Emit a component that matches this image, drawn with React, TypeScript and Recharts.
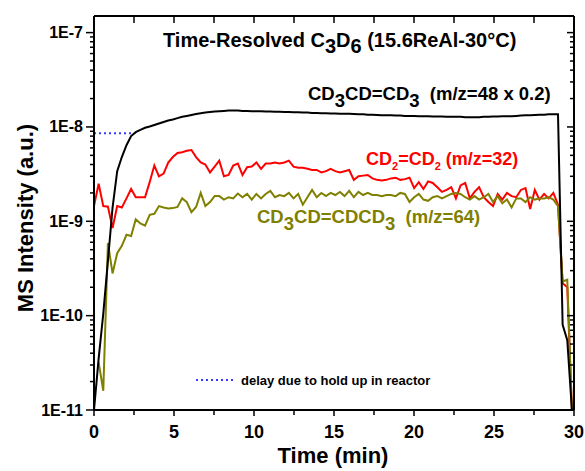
import React from 'react';
import { LineChart, Line, XAxis, YAxis } from 'recharts';

// sampling grid (min)
const times: number[] = Array.from({ length: 104 }, (_, i) => Math.round(i * 29) / 100);

const blackValues: number[] = [
  1e-11, 3.5e-11, 1.05e-10, 3.8e-10, 1.4e-9, 3.4e-9, 4.8e-9, 6.4e-9, 8.0e-9, 8.8e-9,
  9.3e-9, 9.8e-9, 1.01e-8, 1.05e-8, 1.09e-8, 1.13e-8, 1.17e-8, 1.2e-8, 1.24e-8, 1.28e-8,
  1.31e-8, 1.34e-8, 1.37e-8, 1.4e-8, 1.42e-8, 1.44e-8, 1.46e-8, 1.47e-8, 1.48e-8, 1.49e-8,
  1.49e-8, 1.49e-8, 1.48e-8, 1.48e-8, 1.47e-8, 1.47e-8, 1.47e-8, 1.46e-8, 1.46e-8, 1.45e-8,
  1.45e-8, 1.44e-8, 1.44e-8, 1.43e-8, 1.43e-8, 1.42e-8, 1.42e-8, 1.41e-8, 1.41e-8, 1.4e-8,
  1.4e-8, 1.39e-8, 1.39e-8, 1.38e-8, 1.38e-8, 1.38e-8, 1.37e-8, 1.36e-8, 1.36e-8, 1.35e-8,
  1.35e-8, 1.34e-8, 1.33e-8, 1.33e-8, 1.33e-8, 1.32e-8, 1.32e-8, 1.31e-8, 1.31e-8, 1.31e-8,
  1.3e-8, 1.3e-8, 1.3e-8, 1.29e-8, 1.29e-8, 1.29e-8, 1.28e-8, 1.28e-8, 1.28e-8, 1.28e-8,
  1.27e-8, 1.27e-8, 1.27e-8, 1.27e-8, 1.28e-8, 1.28e-8, 1.29e-8, 1.29e-8, 1.3e-8, 1.3e-8,
  1.3e-8, 1.31e-8, 1.32e-8, 1.33e-8, 1.33e-8, 1.34e-8, 1.35e-8, 1.35e-8, 1.36e-8, 1.36e-8,
  1.36e-8, 8e-11, 5.5e-11, 1e-11,
];

const redValues: number[] = [
  1.45e-9, 2.5e-9, 1.45e-9, 1.43e-9, 8.5e-10, 1.45e-9, 1.4e-9, 1.75e-9, 2.2e-9, 1.8e-9,
  1.8e-9, 1.8e-9, 2.6e-9, 3.9e-9, 3.0e-9, 3.2e-9, 4.2e-9, 4.8e-9, 5.3e-9, 5.4e-9,
  5.6e-9, 5.7e-9, 4.8e-9, 4.2e-9, 4.0e-9, 3.3e-9, 3.8e-9, 4.4e-9, 3.0e-9, 3.1e-9,
  3.9e-9, 4.1e-9, 3.1e-9, 3.75e-9, 3.8e-9, 4.2e-9, 3.6e-9, 4.1e-9, 4.1e-9, 4.2e-9,
  4.1e-9, 4.2e-9, 4.4e-9, 3.8e-9, 3.7e-9, 3.7e-9, 3.6e-9, 3.5e-9, 3.5e-9, 3.3e-9,
  3.4e-9, 3.6e-9, 3.4e-9, 3.3e-9, 3.4e-9, 3.5e-9, 2.75e-9, 3.0e-9, 3.05e-9, 3.1e-9,
  2.85e-9, 2.75e-9, 2.7e-9, 2.75e-9, 2.85e-9, 2.9e-9, 2.75e-9, 2.8e-9, 2.9e-9, 2.25e-9,
  2.6e-9, 2.2e-9, 2.65e-9, 2.55e-9, 2.3e-9, 2.05e-9, 2.15e-9, 2.3e-9, 1.75e-9, 2.4e-9,
  2.55e-9, 1.75e-9, 2.05e-9, 2.3e-9, 1.8e-9, 1.6e-9, 1.45e-9, 1.95e-9, 1.7e-9, 2.0e-9,
  1.85e-9, 1.8e-9, 2.15e-9, 2.25e-9, 1.35e-9, 2.15e-9, 1.7e-9, 1.95e-9, 1.75e-9, 2.0e-9,
  1.5e-9, 2.2e-10, 2.0e-10, 1e-11,
];

const oliveValues: (number | null)[] = [
  null, 3.2e-11, 1.6e-11, 5.9e-10, 2.8e-10, 4.6e-10, 5.5e-10, 7.2e-10, 7.0e-10, 1.05e-9,
  9.5e-10, 9.0e-10, 1.17e-9, 1.2e-9, 1.45e-9, 1.4e-9, 1.37e-9, 1.38e-9, 1.42e-9, 1.75e-9,
  1.6e-9, 1.25e-9, 1.42e-9, 2.0e-9, 1.45e-9, 1.6e-9, 1.85e-9, 1.85e-9, 1.7e-9, 1.8e-9,
  1.75e-9, 1.97e-9, 1.8e-9, 1.95e-9, 1.7e-9, 1.95e-9, 1.75e-9, 1.95e-9, 2.1e-9, 1.8e-9,
  1.9e-9, 1.85e-9, 2.0e-9, 1.75e-9, 1.95e-9, 1.5e-9, 1.8e-9, 2.15e-9, 1.8e-9, 2.0e-9,
  1.85e-9, 2.0e-9, 1.9e-9, 2.05e-9, 1.85e-9, 2.1e-9, 1.8e-9, 2.05e-9, 1.9e-9, 2.0e-9,
  1.9e-9, 1.9e-9, 1.85e-9, 1.9e-9, 1.9e-9, 1.85e-9, 2.0e-9, 1.95e-9, 1.6e-9, 1.8e-9,
  1.95e-9, 1.7e-9, 1.65e-9, 1.8e-9, 1.85e-9, 1.75e-9, 1.85e-9, 1.95e-9, 2.0e-9, 1.95e-9,
  1.8e-9, 1.7e-9, 1.85e-9, 1.7e-9, 1.8e-9, 1.95e-9, 1.6e-9, 1.85e-9, 1.55e-9, 1.7e-9,
  1.4e-9, 1.75e-9, 1.75e-9, 1.6e-9, 1.8e-9, 1.7e-9, 1.75e-9, 1.75e-9, 1.8e-9, 1.7e-9,
  1.45e-9, 2.3e-10, 2.4e-10, 1e-11,
];

const delayTimes: number[] = [0, 2.4];
const delayValues: number[] = [8.6e-9, 8.6e-9];

const xTicks: number[] = [0, 2.5, 5, 7.5, 10, 12.5, 15, 17.5, 20, 22.5, 25, 27.5, 30];
const xLabels: number[] = [0, 5, 10, 15, 20, 25, 30];
const yMajor: number[] = [1e-11, 1e-10, 1e-9, 1e-8, 1e-7];
const yLabels: string[] = ['1E-11', '1E-10', '1E-9', '1E-8', '1E-7'];
const yMinorMult: number[] = [2, 3, 4, 5, 6, 7, 8, 9];

const yTicks: number[] = [];
yMajor.forEach((d) => {
  yTicks.push(d);
  yMinorMult.forEach((m) => {
    if (m * d <= 1.5e-7) yTicks.push(m * d);
  });
});

const data = times.map((t, i) => ({ t, black: blackValues[i], red: redValues[i], olive: oliveValues[i] }));
const delayData = delayTimes.map((t, i) => ({ t, delay: delayValues[i] }));

const FONT = '"Liberation Sans", Arial, Helvetica, sans-serif';
const Y_DOMAIN: [number, number] = [1e-11, 1.5e-7];

const majorIndex = (v: number) => {
  const lg = Math.log10(v);
  if (Math.abs(lg - Math.round(lg)) < 1e-6) {
    return yMajor.findIndex((m) => Math.abs(Math.log10(m) - lg) < 1e-6);
  }
  return -1;
};

const LeftTick = (props: any) => {
  const { x, y, payload } = props;
  const idx = majorIndex(payload.value);
  const major = idx >= 0;
  return (
    <g>
      <line x1={x - (major ? 8 : 4)} x2={x} y1={y} y2={y} stroke="#000" strokeWidth={1.5} />
      {major && (
        <text x={x - 11} y={y + 5.5} textAnchor="end" fontSize={16} fontWeight="bold" fontFamily={FONT} fill="#000">
          {yLabels[idx]}
        </text>
      )}
    </g>
  );
};

const RightTick = (props: any) => {
  const { x, y, payload } = props;
  const major = majorIndex(payload.value) >= 0;
  return <line x1={x - (major ? 7 : 4)} x2={x} y1={y} y2={y} stroke="#000" strokeWidth={1.5} />;
};

const BottomTick = (props: any) => {
  const { x, y, payload } = props;
  const v = payload.value;
  const labelled = xLabels.includes(v);
  return (
    <g>
      <line x1={x} x2={x} y1={y} y2={y + (labelled ? 6 : 5)} stroke="#000" strokeWidth={1.5} />
      {labelled && (
        <text x={x} y={y + 28} textAnchor="middle" fontSize={18} fontWeight="bold" fontFamily={FONT} fill="#000">
          {String(v)}
        </text>
      )}
    </g>
  );
};

const TopTick = (props: any) => {
  const { x, y } = props;
  return <line x1={x} x2={x} y1={y} y2={y + 7} stroke="#000" strokeWidth={1.5} />;
};

const axisLine = { stroke: '#000', strokeWidth: 2 };

export default function App() {
  return (
    <div style={{ position: 'absolute', left: 0, top: 0, width: 585, height: 471, background: '#fff' }}>
      <LineChart width={585} height={471} data={data} margin={{ top: 0, right: 0, bottom: 0, left: 0 }}>
        <XAxis
          xAxisId="b"
          dataKey="t"
          type="number"
          domain={[0, 30]}
          ticks={xTicks}
          interval={0}
          height={61}
          tickSize={0}
          tickMargin={0}
          tickLine={false}
          axisLine={axisLine}
          tick={<BottomTick />}
          allowDataOverflow
        />
        <XAxis
          xAxisId="top"
          orientation="top"
          dataKey="t"
          type="number"
          domain={[0, 30]}
          ticks={xTicks}
          interval={0}
          height={16}
          tickSize={0}
          tickMargin={0}
          tickLine={false}
          axisLine={axisLine}
          tick={<TopTick />}
          allowDataOverflow
        />
        <YAxis
          yAxisId="l"
          type="number"
          scale="log"
          domain={Y_DOMAIN}
          ticks={yTicks}
          interval={0}
          width={94}
          tickSize={0}
          tickMargin={0}
          tickLine={false}
          axisLine={axisLine}
          tick={<LeftTick />}
          allowDataOverflow
        />
        <YAxis
          yAxisId="r"
          orientation="right"
          type="number"
          scale="log"
          domain={Y_DOMAIN}
          ticks={yTicks}
          interval={0}
          width={11}
          tickSize={0}
          tickMargin={0}
          tickLine={false}
          axisLine={axisLine}
          tick={<RightTick />}
          allowDataOverflow
        />
        <Line xAxisId="b" yAxisId="l" dataKey="red" stroke="#ff0000" strokeWidth={2} dot={false} isAnimationActive={false} />
        <Line xAxisId="b" yAxisId="l" dataKey="olive" stroke="#808000" strokeWidth={2} dot={false} isAnimationActive={false} />
        <Line xAxisId="b" yAxisId="l" dataKey="black" stroke="#000000" strokeWidth={2} dot={false} isAnimationActive={false} />
        <Line
          xAxisId="b"
          yAxisId="l"
          data={delayData}
          dataKey="delay"
          stroke="#3a3aff"
          strokeWidth={2}
          strokeDasharray="2 3"
          dot={false}
          isAnimationActive={false}
        />
      </LineChart>
      <svg
        width={585}
        height={471}
        style={{ position: 'absolute', left: 0, top: 0, pointerEvents: 'none' }}
        fontFamily={FONT}
        fontWeight="bold"
      >
        <text x={163} y={47} fontSize={20} fill="#000">
          Time-Resolved C<tspan dy={6}>3</tspan>
          <tspan dy={-6}>D</tspan>
          <tspan dy={6}>6</tspan>
          <tspan dy={-6}> (15.6ReAl-30°C)</tspan>
        </text>
        <text x={308} y={100} fontSize={18.5} fill="#000" style={{ whiteSpace: 'pre' }}>
          CD<tspan dy={7}>3</tspan>
          <tspan dy={-7}>CD=CD</tspan>
          <tspan dy={7}>3</tspan>
          <tspan dy={-7}>{'  (m/z=48 x 0.2)'}</tspan>
        </text>
        <text x={366} y={165} fontSize={18} fill="#ff0000" style={{ whiteSpace: 'pre' }}>
          CD<tspan dy={5} fontSize={11}>2</tspan>
          <tspan dy={-5}>=CD</tspan>
          <tspan dy={5} fontSize={11}>2</tspan>
          <tspan dy={-5}>{' (m/z=32)'}</tspan>
        </text>
        <text x={257} y={223} fontSize={18.5} fill="#808000" style={{ whiteSpace: 'pre' }}>
          CD<tspan dy={7}>3</tspan>
          <tspan dy={-7}>CD=CDCD</tspan>
          <tspan dy={7}>3</tspan>
          <tspan dy={-7}>{'  (m/z=64)'}</tspan>
        </text>
        <line x1={196} x2={234} y1={380} y2={380} stroke="#3a3aff" strokeWidth={2} strokeDasharray="2 3" />
        <text x={241} y={385} fontSize={13} fill="#000">
          delay due to hold up in reactor
        </text>
        <text x={333} y={463} fontSize={22} fill="#000" textAnchor="middle">
          Time (min)
        </text>
        <text transform="translate(33,218) rotate(-90)" fontSize={22} fill="#000" textAnchor="middle">
          MS Intensity (a.u.)
        </text>
      </svg>
    </div>
  );
}
